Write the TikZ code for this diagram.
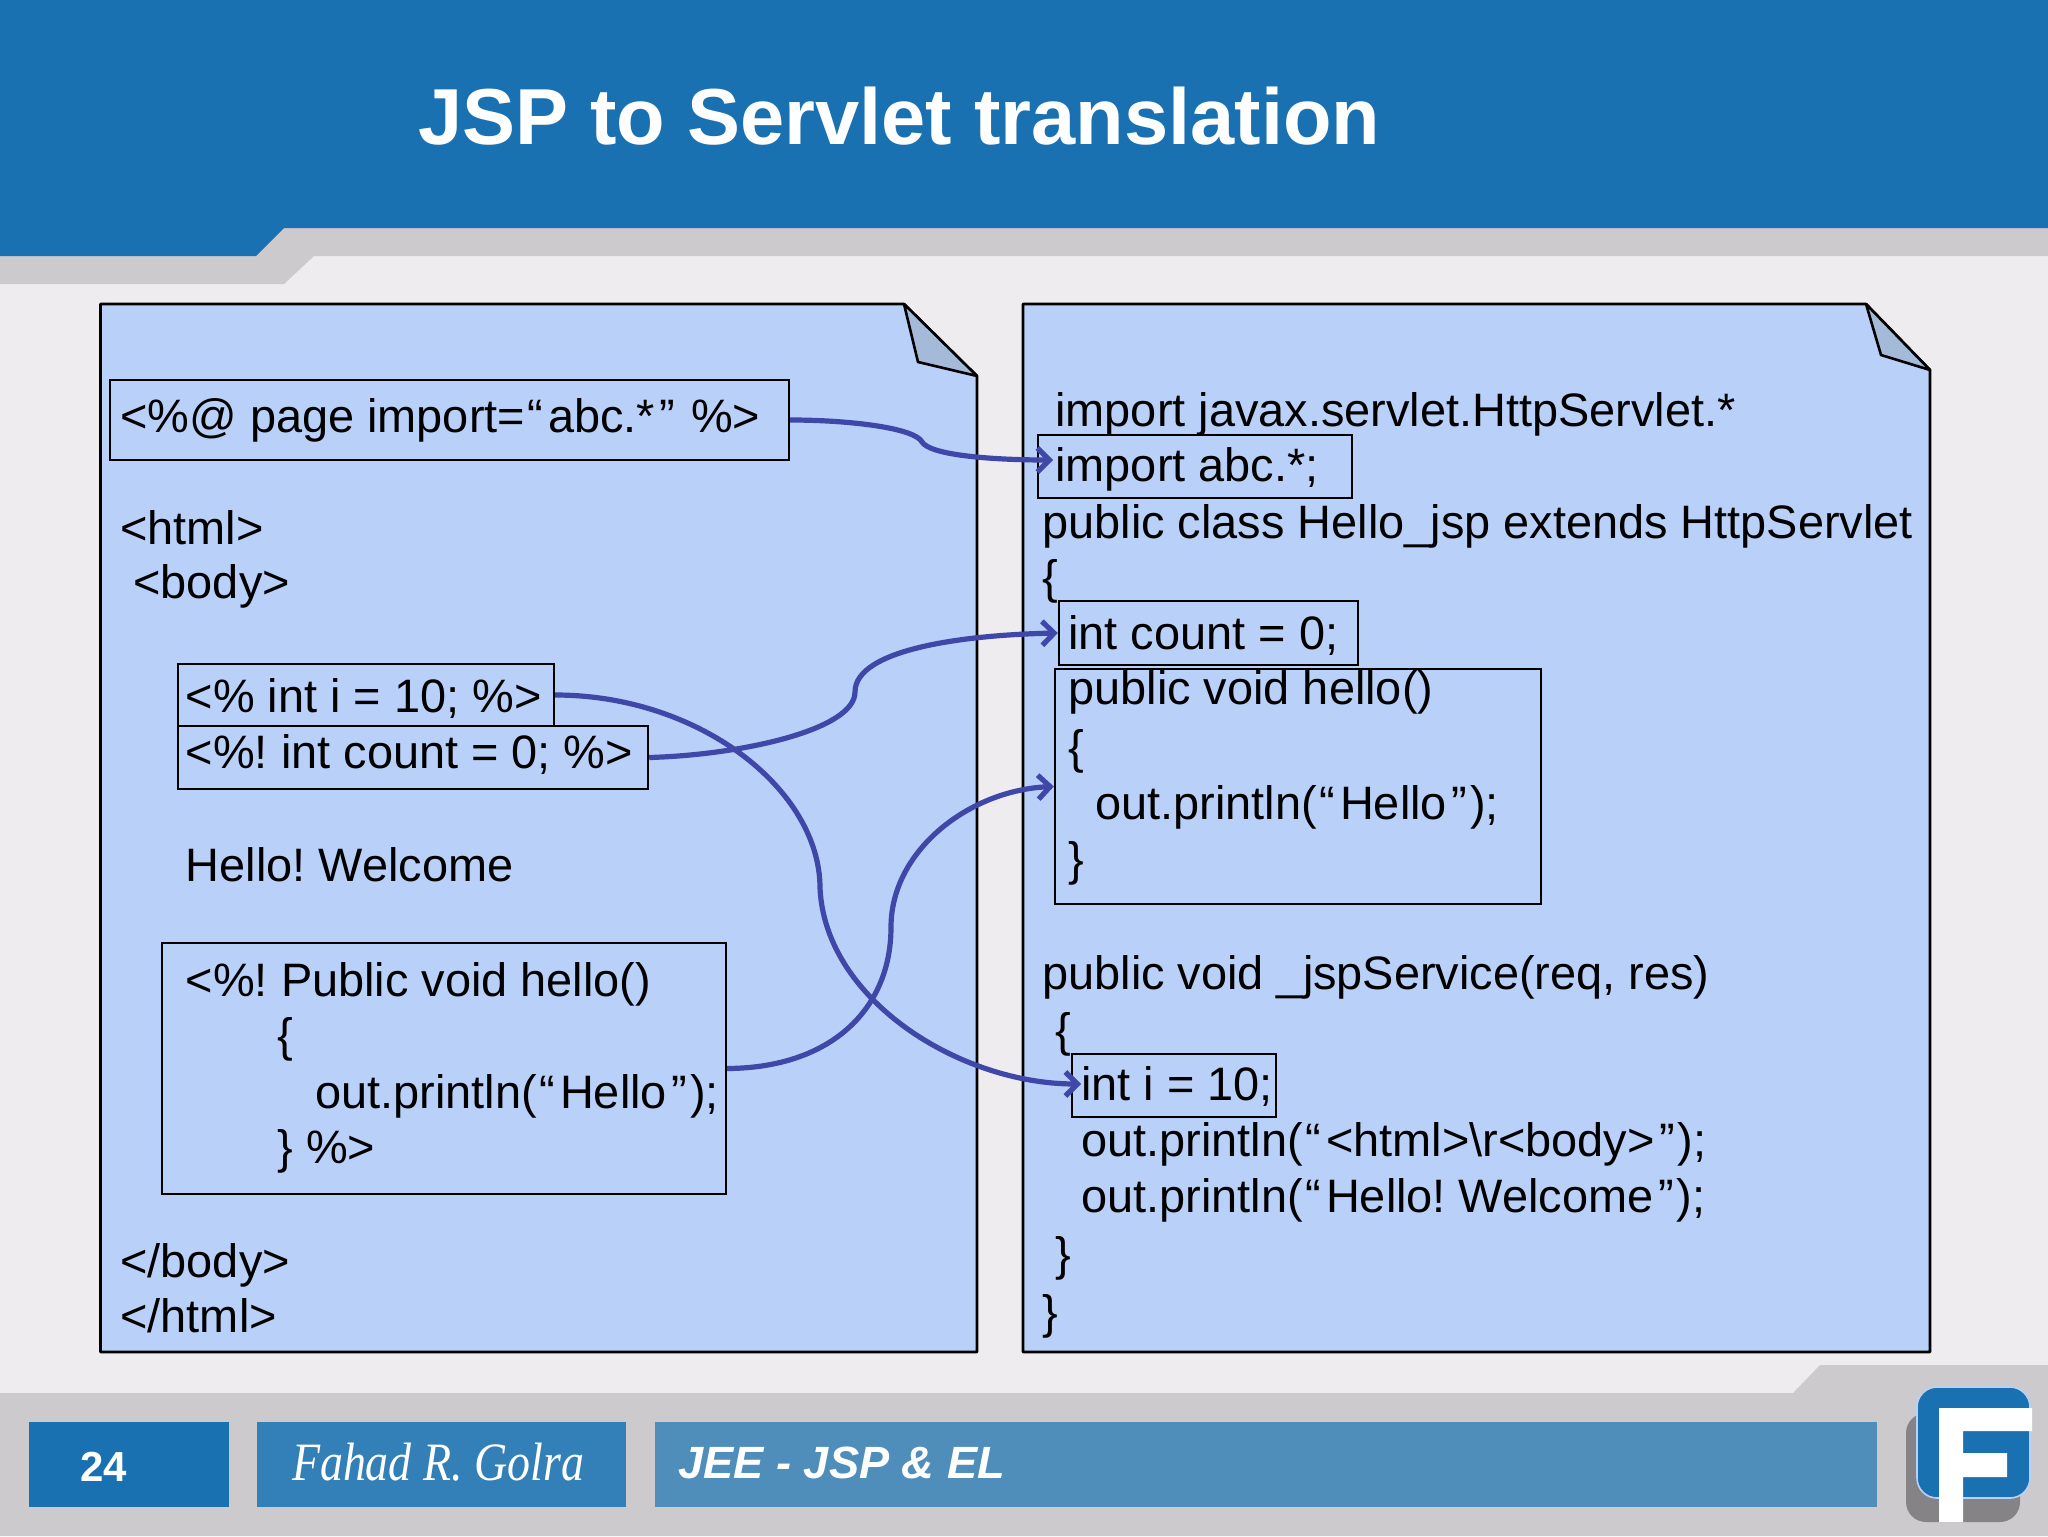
\documentclass[tikz,border=0pt]{standalone}
\usepackage{fontspec}
\setmainfont{Liberation Sans}
\newfontfamily\signfont[FakeStretch=0.85]{Liberation Serif}
\usetikzlibrary{arrows.meta,fit}
\frenchspacing
\newcommand{\opq}{\kern0.06em“\kern0.1em}
\newcommand{\clq}{\kern0.1em”\kern0.06em}
\definecolor{barblue}{HTML}{1A71B2}
\definecolor{authblue}{HTML}{337FB7}
\definecolor{topicblue}{HTML}{4F8DBB}
\definecolor{bandgrey}{HTML}{CCCACC}
\definecolor{slidebg}{HTML}{EEECEE}
\definecolor{pagefill}{HTML}{B9D1F8}
\definecolor{foldfill}{HTML}{A5BAD8}
\definecolor{flowblue}{HTML}{3F48A8}
\definecolor{logoshade}{HTML}{858385}
\begin{document}
\begin{tikzpicture}[x=0.5pt,y=-0.5pt,>={Straight Barb[length=6pt,width=12pt]},
	codetext/.style={anchor=base west,inner sep=0pt,yshift=0.5pt,font=\fontsize{23.45}{27}\selectfont},
	codebox/.style={draw=black,line width=1.2pt,inner sep=0pt},
	page/.style={draw=black,line width=1.3pt,fill=pagefill,line join=round},
	flow/.style={->,draw=flowblue,line width=2.6pt}]
	\useasboundingbox (0,0) rectangle (2048,1536);
	% Nền và thanh tiêu đề
	\fill[slidebg] (0,0) rectangle (2048,1536);
	\fill[bandgrey] (0,228) -- (2048,228) -- (2048,256) -- (314,256) -- (284,284) -- (0,284) -- cycle;
	\fill[barblue] (0,0) -- (2048,0) -- (2048,228) -- (284,228) -- (256,256) -- (0,256) -- cycle;
	\node[anchor=base west,inner sep=0pt,text=white,font=\fontsize{39.7}{48}\selectfont\bfseries] (title) at (418,144) {JSP to Servlet translation};
	% Chân trang
	\fill[bandgrey] (0,1393) -- (1793,1393) -- (1820,1365) -- (2048,1365) -- (2048,1536) -- (0,1536) -- cycle;
	\fill[barblue] (29,1422) rectangle (229,1507);
	\fill[authblue] (257,1422) rectangle (626,1507);
	\fill[topicblue] (655,1422) rectangle (1877,1507);
	\node[anchor=base west,inner sep=0pt,text=white,font=\fontsize{21}{24}\selectfont\bfseries] (pageno) at (80,1481) {24};
	\node[anchor=base,inner sep=0pt,text=white,font=\fontsize{27}{30}\signfont\itshape] (author) at (438,1480) {Fahad R. Golra};
	\node[anchor=base west,inner sep=0pt,text=white,font=\fontsize{22.6}{26}\selectfont\bfseries\itshape] (topic) at (678,1478) {JEE - JSP \& EL};
	% Logo
	\fill[logoshade,rounded corners=10pt] (1906,1413) rectangle (2020,1522);
	\draw[fill=barblue,draw=pagefill,line width=0.8pt,rounded corners=10pt] (1917,1387) rectangle (2030,1498);
	\fill[white] (1939,1522) -- (1939,1408) -- (2032,1408) -- (2032,1431) -- (1963,1431) -- (1963,1453) -- (2007,1453) -- (2007,1477) -- (1963,1477) -- (1963,1522) -- cycle;
	% Hai trang
	\draw[page] (100.5,304) -- (904,304) -- (977,376) -- (977,1352) -- (100.5,1352) -- cycle;
	\draw[page,fill=foldfill] (904,304) -- (918,362) -- (977,376) -- cycle;
	\draw[page] (1023,304) -- (1866,304) -- (1930,370) -- (1930,1352) -- (1023,1352) -- cycle;
	\draw[page,fill=foldfill] (1866,304) -- (1881,355) -- (1930,370) -- cycle;
	% Các khung
	\foreach \nm/\xa/\ya/\xb/\yb in {impbox/110/380/789/460,scriptbox/178/664/554/726,declbox/178/726/648/789,
		methbox/162/943/726/1194,abcbox/1038/435/1352/498,countbox/1059/601/1358/665,
		hellobox/1055/669/1541/904,ibox/1072/1054/1276/1117}
	\node[codebox,fit={(\xa,\ya)(\xb,\yb)}] (\nm) {};
	% Chữ trang trái
	\foreach \nm/\px/\py/\txt in {l1/120/433.5/{<\%@ page import=\opq abc.*\clq\ \%>},l2/120/545.5/{<html>},l3/133/599.5/{<body>},
		l4/185.5/713.5/{<\% int i = 10; \%>},l5/185.5/769.5/{<\%! int count = 0; \%>},l6/185.5/882/{Hello! Welcome},
		l7/185.5/997/{<\%! Public void hello()},l8/277/1052/{\{},l9/315/1109.5/{out.println(\opq Hello\clq);},
		l10/277/1164/{\} \%>},l11/120/1278.5/{</body>},l12/120/1333.5/{</html>}}
	\node[codetext] (\nm) at (\px,\py) {\txt};
	% Chữ trang phải
	\foreach \nm/\px/\py/\txt in {r1/1055/427/{import javax.servlet.HttpServlet.*},r2/1055/482/{import abc.*;},
		r3/1042/539/{public class Hello\_jsp extends HttpServlet},r4/1042/594/{\{},r5/1068/650/{int count = 0;},
		r6/1068/705/{public void hello()},r7/1068/764/{\{},r8/1095/820/{out.println(\opq Hello\clq);},r9/1068/876/{\}},
		r10/1042/990/{public void \_jspService(req, res)},r11/1055/1047/{\{},r12/1081/1101/{int i = 10;},
		r13/1081/1157/{out.println(\opq<html>\textbackslash r<body>\clq);},r14/1081/1213.5/{out.println(\opq Hello! Welcome\clq);},
		r15/1055/1271/{\}},r16/1042/1329/{\}}}
	\node[codetext] (\nm) at (\px,\py) {\txt};
	% Mũi tên
	\coordinate (abcend) at (1053,460);
	\coordinate (iend) at (1081,1084);
	\draw[flow] (impbox.east) .. controls (850,420) and (915,428) .. (922,442) .. controls (930,455) and (990,460) .. (abcend);
	\draw[flow] (declbox.east) .. controls (740,755) and (855,730) .. (855,692) .. controls (855,650) and (960,635) .. (countbox.west);
	\draw[flow] (scriptbox.east) .. controls (700,695) and (820,790) .. (820,888) .. controls (825,1000) and (960,1084) .. (iend);
	\draw[flow] (methbox.east) .. controls (830,1068) and (891,1010) .. (891,927) .. controls (891,850) and (970,790) .. (hellobox.west);
\end{tikzpicture}
\end{document}
